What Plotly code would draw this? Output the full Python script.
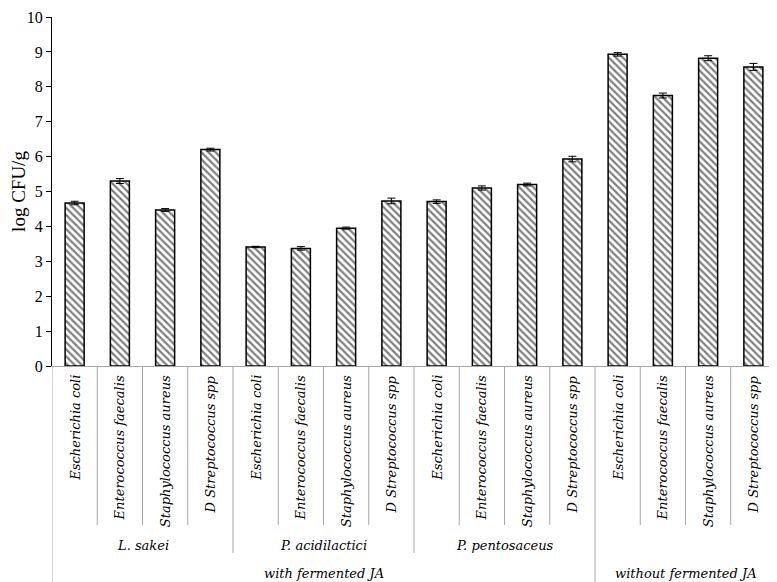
import plotly.graph_objects as go

bacteria = ["Escherichia coli", "Enterococcus faecalis", "Staphylococcus aureus", "D Streptococcus spp"]
strains = ["L. sakei", "P. acidilactici", "P. pentosaceus", ""]
groups = ["with fermented JA", "without fermented JA"]
group_span = [3, 1]  # number of strain blocks per group

values = [4.67, 5.30, 4.47, 6.20,
          3.41, 3.37, 3.95, 4.73,
          4.71, 5.10, 5.20, 5.93,
          8.93, 7.75, 8.82, 8.57]
errors = [0.05, 0.07, 0.04, 0.04,
          0.02, 0.05, 0.03, 0.08,
          0.05, 0.06, 0.04, 0.08,
          0.05, 0.07, 0.07, 0.10]

n = len(values)
xs = list(range(n))
labels = [bacteria[i % 4] for i in range(n)]

SERIF = "Liberation Serif, Times New Roman, serif"
ITSERIF = "DejaVu Serif"
GRAY = "#a6a6a6"
IT = dict(family=ITSERIF, size=13, color="black", style="italic")

fig = go.Figure(go.Bar(
    x=xs, y=values, width=0.42,
    marker=dict(color="white", line=dict(color="black", width=1.5),
                pattern=dict(shape="\\", fgcolor="black", bgcolor="white", size=5, solidity=0.45)),
    error_y=dict(type="data", array=errors, visible=True, color="black", thickness=1, width=4),
))

TOP = 9
# plot area height in px (for placing labels below the axis)
PH = 574 - TOP - 216

def py(px_below):
    return -px_below / PH

shapes = []
annotations = []
# bacterium labels
for i, lab in enumerate(labels):
    annotations.append(dict(x=i, y=py(7), xref="x", yref="paper", text=lab,
                            textangle=-90, xanchor="center", yanchor="top", showarrow=False,
                            font=IT))
# strain labels
for j, s in enumerate(strains):
    if s:
        annotations.append(dict(x=4 * j + 1.5, y=py(179), xref="x", yref="paper", text=s,
                                xanchor="center", yanchor="middle", showarrow=False, font=IT))
# group labels
start = 0
for g, span in zip(groups, group_span):
    end = start + 4 * span
    annotations.append(dict(x=(start + end - 1) / 2, y=py(207), xref="x", yref="paper", text=g,
                            xanchor="center", yanchor="middle", showarrow=False, font=IT))
    start = end

# dividers
group_bounds = [-0.5]
acc = 0
for span in group_span:
    acc += 4 * span
    group_bounds.append(acc - 0.5)
for k in range(n + 1):
    xb = k - 0.5
    if xb in group_bounds:
        y1 = py(260)
    elif k % 4 == 0:
        y1 = py(187)
    else:
        y1 = py(159)
    shapes.append(dict(type="line", xref="x", yref="paper", x0=xb, x1=xb, y0=0, y1=y1,
                       line=dict(color=GRAY, width=1)))

fig.update_layout(
    width=769, height=574,
    margin=dict(l=44, r=1, t=TOP, b=216, autoexpand=False),
    plot_bgcolor="white", paper_bgcolor="white",
    showlegend=False,
    font=dict(family=SERIF, color="black"),
    shapes=shapes, annotations=annotations,
    xaxis=dict(range=[-0.5, n - 0.5], showticklabels=False, ticks="", showgrid=False,
               zeroline=False, showline=True, linecolor=GRAY, linewidth=1, automargin=False),
    yaxis=dict(range=[0, 10], dtick=1, tick0=0, ticks="outside", ticklen=5, tickcolor="black",
               showline=True, linecolor="black", linewidth=1, showgrid=False, zeroline=False,
               ticklabeloverflow="allow", automargin=False,
               tickfont=dict(family=SERIF, size=16),
               title=dict(text="log CFU/g", font=dict(family=SERIF, size=19), standoff=16)),
)

fig.write_html("out.html")
